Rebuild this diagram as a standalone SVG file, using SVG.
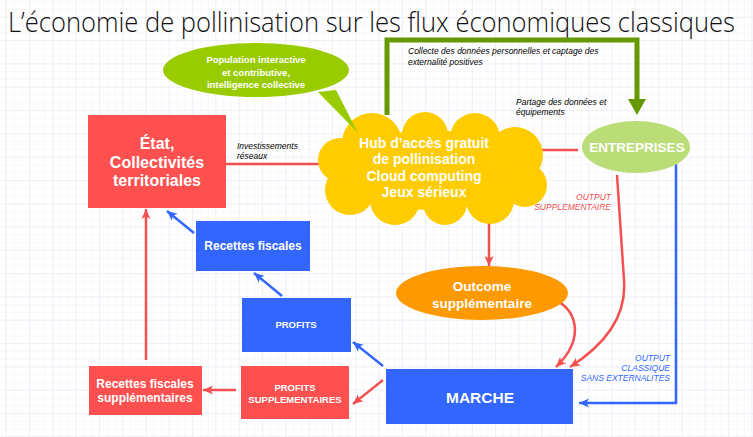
<svg xmlns="http://www.w3.org/2000/svg" width="753" height="437" viewBox="0 0 753 437">
<defs>
<pattern id="minor" patternUnits="userSpaceOnUse" x="5.7" y="16.8" width="7.77" height="7.77">
<path d="M0,0 H7.77 M0,0 V7.77" fill="none" stroke="#f1f2f9" stroke-width="1"/>
</pattern>
<pattern id="major" patternUnits="userSpaceOnUse" x="5.7" y="16.8" width="23.3" height="23.3">
<path d="M0,0 H23.3 M0,0 V23.3" fill="none" stroke="#e6e8f3" stroke-width="1"/>
</pattern>
<marker id="ar" markerUnits="userSpaceOnUse" markerWidth="12" markerHeight="10" refX="10" refY="5" orient="auto">
<path d="M0,0.5 L10,5 L0,9.5 L2.5,5 Z" fill="#f55050"/>
</marker>
<marker id="ab" markerUnits="userSpaceOnUse" markerWidth="12" markerHeight="10" refX="10" refY="5" orient="auto">
<path d="M0,0.5 L10,5 L0,9.5 L2.5,5 Z" fill="#3366ff"/>
</marker>
</defs>
<style>
.lbl{font-family:"Liberation Sans",Arial,sans-serif;font-weight:bold;fill:#ffffff;text-anchor:middle}
.it{font-family:"Liberation Sans",Arial,sans-serif;font-style:italic;font-size:8.5px}
.red{fill:#ff5050}
.blue{fill:#3366ff}
.lr{fill:none;stroke:#f55050;stroke-width:2.5;marker-end:url(#ar)}
.lb{fill:none;stroke:#3366ff;stroke-width:2.5;marker-end:url(#ab)}
</style>
<rect width="753" height="437" fill="#ffffff"/>
<rect width="753" height="437" fill="url(#minor)"/>
<rect width="753" height="437" fill="url(#major)"/>

<text x="8" y="32" font-family="'Open Sans','Liberation Sans',sans-serif" font-weight="300" font-size="27" fill="#111111" textLength="727" lengthAdjust="spacingAndGlyphs">L’économie de pollinisation sur les flux économiques classiques</text>

<g id="connectors">
<path d="M387,115 V40 H637 V100" fill="none" stroke="#669900" stroke-width="5"/>
<path d="M628,99 L646,99 L637,115 Z" fill="#669900"/>
<line x1="226" y1="164" x2="346" y2="164" class="lr"/>
<line x1="578" y1="150" x2="505" y2="150" class="lr"/>
<line x1="489" y1="208" x2="489" y2="266" class="lr"/>
<path d="M548,297 C578,306 586,338 556,367" class="lr"/>
<path d="M617,175 L624,280 Q628,330 570,367" class="lr"/>
<path d="M676,164 V403 H579" class="lb"/>
<line x1="383" y1="366" x2="353" y2="342" class="lb"/>
<line x1="383" y1="380" x2="353" y2="404" class="lr"/>
<line x1="236" y1="390" x2="203" y2="390" class="lr"/>
<line x1="146" y1="360" x2="146" y2="209" class="lr"/>
<line x1="282" y1="296" x2="254" y2="273" class="lb"/>
<line x1="194" y1="233" x2="167" y2="211" class="lb"/>
<text class="it" x="408" y="54">Collecte des données personnelles et captage des</text>
<text class="it" x="408" y="65">externalité positives</text>
<text class="it" x="516" y="105">Partage des données et</text>
<text class="it" x="516" y="115">équipements</text>
<text class="it" x="237" y="149">Investissements</text>
<text class="it" x="237" y="159">réseaux</text>
<text class="it" x="611" y="200" fill="#f55050" text-anchor="end">OUTPUT</text>
<text class="it" x="611" y="210" fill="#f55050" text-anchor="end">SUPPLEMENTAIRE</text>
<text class="it" x="670" y="361" fill="#3366ff" text-anchor="end">OUTPUT</text>
<text class="it" x="670" y="371" fill="#3366ff" text-anchor="end">CLASSIQUE</text>
<text class="it" x="670" y="381" fill="#3366ff" text-anchor="end">SANS EXTERNALITES</text>
</g>

<g id="hub">
<g fill="#ffcc00">
<ellipse cx="430" cy="170" rx="85" ry="40"/>
<circle cx="372" cy="143" r="30"/>
<circle cx="425" cy="135" r="23"/>
<circle cx="475" cy="138" r="25"/>
<circle cx="515" cy="155" r="28"/>
<circle cx="525" cy="185" r="22"/>
<circle cx="490" cy="200" r="24"/>
<circle cx="445" cy="203" r="22"/>
<circle cx="395" cy="200" r="25"/>
<circle cx="350" cy="190" r="25"/>
<circle cx="340" cy="160" r="22"/>
</g>
<text class="lbl" font-size="14" x="424" y="148">Hub d’accès gratuit</text>
<text class="lbl" font-size="14" x="424" y="164">de pollinisation</text>
<text class="lbl" font-size="14" x="424" y="181">Cloud computing</text>
<text class="lbl" font-size="14" x="424" y="197">Jeux sérieux</text>
</g>

<g id="population">
<ellipse cx="256" cy="70" rx="93" ry="27" fill="#99cc00"/>
<path d="M318,92 L358,133 L336,90 Z" fill="#99cc00"/>
<text class="lbl" font-size="9.5" x="256" y="63">Population interactive</text>
<text class="lbl" font-size="9.5" x="256" y="76">et contributive,</text>
<text class="lbl" font-size="9.5" x="256" y="88">intelligence collective</text>
</g>

<g id="etat">
<rect x="88" y="115" width="138" height="93" class="red"/>
<text class="lbl" font-size="16" x="157" y="149">État,</text>
<text class="lbl" font-size="16" x="157" y="168">Collectivités</text>
<text class="lbl" font-size="16" x="157" y="186">territoriales</text>
</g>

<g id="entreprises">
<ellipse cx="636" cy="147" rx="54" ry="26" fill="#bbdd77"/>
<text class="lbl" font-size="13.5" x="637" y="152">ENTREPRISES</text>
</g>

<g id="recettes">
<rect x="196" y="221" width="114" height="50" class="blue"/>
<text class="lbl" font-size="12" x="253" y="250">Recettes fiscales</text>
</g>

<g id="outcome">
<ellipse cx="482" cy="293" rx="86" ry="27" fill="#ff9900"/>
<text class="lbl" font-size="13.5" x="482" y="291">Outcome</text>
<text class="lbl" font-size="13.5" x="482" y="308">supplémentaire</text>
</g>

<g id="profits">
<rect x="242" y="298" width="109" height="54" class="blue"/>
<text class="lbl" font-size="9.5" x="296" y="328">PROFITS</text>
</g>

<g id="profits-supp">
<rect x="241" y="366" width="108" height="53" class="red"/>
<text class="lbl" font-size="9.5" x="295" y="390.5">PROFITS</text>
<text class="lbl" font-size="9.5" x="295" y="402.5">SUPPLEMENTAIRES</text>
</g>

<g id="recettes-supp">
<rect x="89" y="366" width="113" height="49" class="red"/>
<text class="lbl" font-size="12" x="145" y="388">Recettes fiscales</text>
<text class="lbl" font-size="12" x="145" y="402">supplémentaires</text>
</g>

<g id="marche">
<rect x="386" y="369" width="187" height="55" class="blue"/>
<text class="lbl" font-size="15.5" x="480" y="403">MARCHE</text>
</g>
</svg>
